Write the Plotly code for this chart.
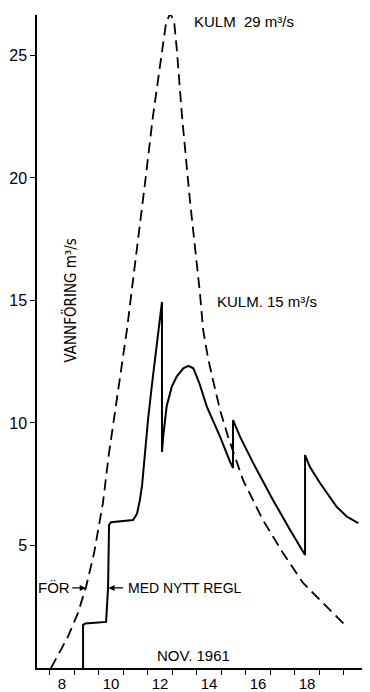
import plotly.graph_objects as go

# Dashed curve: flow before regulation ("FÖR")
dash_x = [7.55, 8.24, 8.65, 8.98, 9.31, 9.67, 9.92, 10.12, 10.65, 10.90, 11.06, 11.39,
          11.71, 12.08, 12.25, 12.42, 12.58, 12.69, 12.90, 13.22, 13.51, 13.63, 13.76, 13.96,
          14.16, 14.45, 14.78, 15.39, 16.2, 17.02, 17.84, 18.82, 19.63]
dash_y = [0.0, 1.27, 2.24, 3.31, 4.69, 6.73, 8.78, 10.12, 13.8, 15.84, 17.06, 19.8,
          22.5, 25.2, 26.35, 26.72, 26.35, 25.2, 22.5, 19.1, 16.4, 15.3, 13.8, 12.65,
          11.76, 10.53, 9.43, 7.67, 6.04, 4.69, 3.47, 2.49, 1.67]

# Solid curve: flow with new regulation ("MED NYTT REGL")
solid_x = [8.86, 8.86, 8.95, 9.8, 9.88, 9.92, 10.0, 10.9, 11.06, 11.18, 11.27, 11.39, 11.51,
           11.67, 11.84, 11.96, 12.08,
           12.08, 12.13, 12.27, 12.48, 12.68, 12.95, 13.16, 13.36, 13.50, 13.63, 13.91,
           14.45, 14.86, 14.98,
           14.98, 15.27, 15.8, 16.61, 17.31, 17.92,
           17.92, 18.12, 18.53, 18.94, 19.21, 19.62, 20.09]
solid_y = [0.0, 1.76, 1.82, 1.88, 3.27, 5.84, 5.95, 6.04, 6.29, 6.86, 7.47, 8.90, 10.12,
           11.55, 12.90, 13.88, 14.94,
           8.82, 9.44, 10.67, 11.48, 11.89, 12.23, 12.33, 12.23, 11.89, 11.55, 10.67,
           9.44, 8.41, 8.16,
           10.12, 9.43, 8.37, 6.86, 5.63, 4.61,
           8.69, 8.20, 7.55, 6.94, 6.58, 6.18, 5.91]

x_tick_vals = [8, 10, 12, 14, 16, 18]
x_tick_text = ["8", "10", "12", "14", "16", "18"]
y_tick_vals = [5, 10, 15, 20, 25]
y_tick_text = ["5", "10", "15", "20", "25"]

FONT = "Liberation Sans, Arial, sans-serif"
NARROW = "Liberation Sans Narrow, DejaVu Sans Condensed, Arial Narrow, sans-serif"

fig = go.Figure()
fig.add_trace(go.Scatter(x=dash_x, y=dash_y, mode="lines",
                         line=dict(color="black", width=1.8, dash="11px,6px"),
                         hoverinfo="skip", showlegend=False))
fig.add_trace(go.Scatter(x=solid_x, y=solid_y, mode="lines",
                         line=dict(color="black", width=2),
                         hoverinfo="skip", showlegend=False))

annots = [
    dict(x=13.3, y=26.4, text="KULM  29 m³/s", xanchor="left", yanchor="middle",
         font=dict(size=15, family=FONT)),
    dict(x=14.24, y=14.95, text="KULM. 15 m³/s", xanchor="left", yanchor="middle",
         font=dict(size=15, family=FONT)),
    dict(x=8.33, y=15.0, text="VANNFÖRING m³/s", textangle=-90, xanchor="center",
         yanchor="middle", font=dict(size=15, family=NARROW)),
    dict(x=7.67, y=3.27, text="FÖR", xanchor="center", yanchor="middle",
         font=dict(size=15, family=FONT)),
    dict(x=10.61, y=3.27, text="MED NYTT REGL", xanchor="left", yanchor="middle",
         font=dict(size=14, family=FONT)),
    dict(x=11.8, y=0.53, text="NOV. 1961", xanchor="left", yanchor="middle",
         font=dict(size=15, family=FONT)),
]
for a in annots:
    fig.add_annotation(showarrow=False, xref="x", yref="y", **a)

# arrows
fig.add_annotation(x=8.97, y=3.27, ax=-15, ay=0, xref="x", yref="y", axref="pixel", ayref="pixel",
                   text="", showarrow=True, arrowhead=2, arrowsize=1, arrowwidth=1.2, arrowcolor="black")
fig.add_annotation(x=9.9, y=3.27, ax=16, ay=0, xref="x", yref="y", axref="pixel", ayref="pixel",
                   text="", showarrow=True, arrowhead=2, arrowsize=1, arrowwidth=1.2, arrowcolor="black")

# page body has an 8px default margin, so the figure is sized to end at the window edge
fig.update_layout(
    width=362, height=684,
    margin=dict(l=29, r=0, t=7, b=24, autoexpand=False),
    paper_bgcolor="white", plot_bgcolor="white",
    font=dict(family=FONT, color="black", size=16),
    xaxis=dict(range=[6.98, 20.57], tickvals=x_tick_vals, ticktext=x_tick_text,
               ticks="outside", ticklen=1, tickcolor="rgba(0,0,0,0)",
               showline=True, linecolor="black", linewidth=1.5,
               showgrid=False, zeroline=False, automargin=False,
               tickfont=dict(size=15, family=FONT),
               minor=dict(ticks="outside", ticklen=5, tick0=7.5, dtick=1,
                          tickcolor="black", tickwidth=1.2, showgrid=False)),
    yaxis=dict(range=[0, 26.65], tickvals=y_tick_vals, ticktext=y_tick_text,
               ticks="outside", ticklen=5, tickcolor="black", tickwidth=1.2,
               showline=True, linecolor="black", linewidth=1.5,
               showgrid=False, zeroline=False, automargin=False,
               tickfont=dict(size=16, family=FONT)),
)

fig.write_html("out.html")
